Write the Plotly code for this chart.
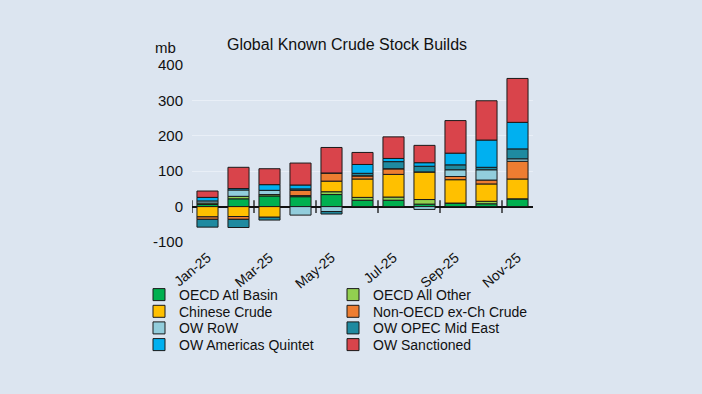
import plotly.graph_objects as go

months = ["Jan-25", "Feb-25", "Mar-25", "Apr-25", "May-25", "Jun-25",
          "Jul-25", "Aug-25", "Sep-25", "Oct-25", "Nov-25"]

oecd_atl   = [6, 22, 30, 28, 34, 18, 18, 7, 10, 8, 22]
oecd_other = [4, 7, 4, 3, 8, 8, 9, 13, 0, 7, 0]
chinese    = [-29, -28, -30, 0, 30, 52, 64, 78, 66, 49, 56]
non_oecd   = [-7, -8, 0, 15, 23, 9, 16, 0, 9, 11, 50]
ow_row     = [6, 18, 12, -24, -14, 0, 0, -8, 19, 29, 7]
ow_opec    = [-22, -23, -8, 4, -7, 7, 20, 16, 14, 7, 28]
ow_amer    = [10, 4, 16, 11, 0, 25, 9, 10, 33, 77, 75]
ow_sanct   = [18, 60, 45, 62, 72, 34, 61, 49, 92, 111, 124]

series = [
    ("OECD Atl Basin", oecd_atl, "#00b050"),
    ("OECD All Other", oecd_other, "#92d050"),
    ("Chinese Crude", chinese, "#ffc000"),
    ("Non-OECD ex-Ch Crude", non_oecd, "#ed7d31"),
    ("OW RoW", ow_row, "#92cddc"),
    ("OW OPEC Mid East", ow_opec, "#1f8aa0"),
    ("OW Americas Quintet", ow_amer, "#00b0f0"),
    ("OW Sanctioned", ow_sanct, "#d9444b"),
]

y_ticks = [-100, 0, 100, 200, 300, 400]
y_tick_labels = ["-100", "0", "100", "200", "300", "400"]

W, H = 702, 394
L, R, T, B = 192, 169, 65, 152
PW, PH = W - L - R, H - T - B
BG = "#dce5f0"
xs = list(range(len(months)))

fig = go.Figure()
legend_pos = [(139, 295), (333, 295), (139, 311.7), (333, 311.7),
              (139, 328.3), (333, 328.3), (139, 345), (333, 345)]
for k, (name, vals, col) in enumerate(series):
    lg = "legend" if k == 0 else f"legend{k+1}"
    fig.add_trace(go.Bar(
        x=xs, y=vals, name=name, legend=lg,
        marker=dict(color=col, line=dict(color="#1a1a1a", width=1)),
    ))

# boundary tick marks on the zero line every two categories
tick_x = [i - 0.5 for i in range(0, len(months), 2)]
fig.add_trace(go.Scatter(
    x=tick_x, y=[0] * len(tick_x), mode="markers", showlegend=False,
    hoverinfo="skip",
    marker=dict(symbol="line-ns", size=9, line=dict(color="#111", width=1.3)),
))

layout_legends = {}
for k, (px, py) in enumerate(legend_pos):
    key = "legend" if k == 0 else f"legend{k+1}"
    layout_legends[key] = dict(
        xref="container", yref="container",
        x=px / W, y=1 - py / H, xanchor="left", yanchor="middle",
        bgcolor="rgba(0,0,0,0)", borderwidth=0,
        font=dict(family="Liberation Sans, Arial", size=14, color="#111"),
        itemwidth=30,
    )

fig.update_layout(
    width=W, height=H,
    paper_bgcolor=BG, plot_bgcolor=BG,
    barmode="relative", bargap=0.32,
    margin=dict(l=L, r=R, t=T, b=B, autoexpand=False),
    font=dict(family="Liberation Sans, Arial", color="#111"),
    title=dict(text="Global Known Crude Stock Builds", x=347 / W, xanchor="center",
               y=1 - 44 / H, yanchor="middle",
               font=dict(size=16, color="#111")),
    xaxis=dict(range=[-0.5, len(months) - 0.5],
               tickvals=xs[::2], ticktext=months[::2], tickangle=-40,
               tickfont=dict(size=14), showgrid=False, zeroline=False,
               showline=False, ticks="", ticklabelstandoff=4),
    yaxis=dict(range=[-100, 400], tickvals=y_ticks, ticktext=y_tick_labels,
               tickfont=dict(size=15),
               showgrid=True, gridcolor="#e9eff7", gridwidth=1,
               zeroline=True, zerolinecolor="#111", zerolinewidth=1.5,
               ticks="", ticklabelstandoff=8, showline=False),
    annotations=[dict(text="mb", xref="paper", yref="paper",
                      x=(165 - L) / PW, y=(H - B - 47) / PH,
                      xanchor="center", yanchor="middle", showarrow=False,
                      font=dict(size=15, color="#111"))],
    **layout_legends,
)

fig.write_html("out.html", config={"displayModeBar": False},
               post_script="document.body.style.margin='0';")
